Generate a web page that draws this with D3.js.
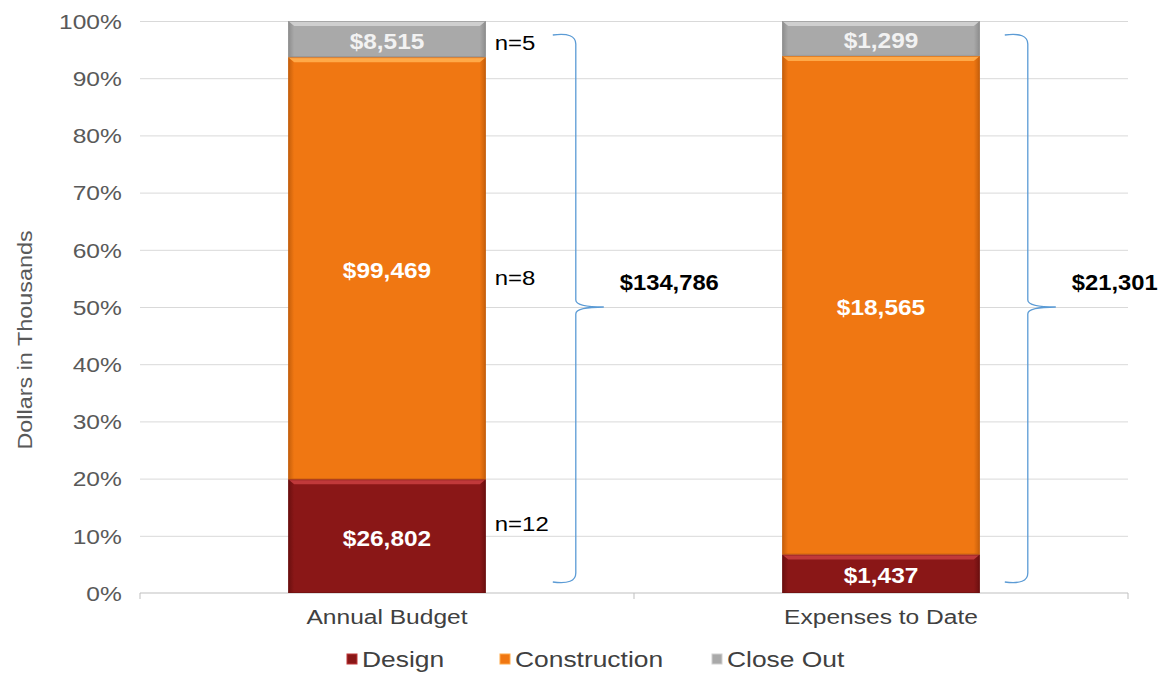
<!DOCTYPE html>
<html lang="en">
<head>
<meta charset="utf-8">
<title>Budget vs Expenses</title>
<script src="https://cdn.jsdelivr.net/npm/d3@7"></script>
<style>
  body { margin: 0; background: #fff; }
  svg { font-family: "Liberation Sans", Arial, sans-serif; }
  .grid line { stroke: #d9d9d9; }
  .grid path { display: none; }
  .yaxis text { fill: #595959; font-size: 21px; }
  .yaxis path, .yaxis line { display: none; }
  .xaxis text { fill: #404040; font-size: 21px; }
  .xaxis path, .xaxis line { stroke: #bfbfbf; }
</style>
</head>
<body>
<script>
// data
var categories = ["Annual Budget", "Expenses to Date"];
var seriesNames = ["Design", "Construction", "Close Out"];
var design = [26802, 1437];
var construction = [99469, 18565];
var closeOut = [8515, 1299];
var totals = ["$134,786", "$21,301"];
// n counts next to first bar, at percent height
var nLabels = ["n=12", "n=8", "n=5"];
var nPos = [0.122, 0.552, 0.962];
var yTicks = [0, 0.1, 0.2, 0.3, 0.4, 0.5, 0.6, 0.7, 0.8, 0.9, 1];

var colors = {"Design": "#8a1717", "Construction": "#f07712", "Close Out": "#a9a9a9"};
var light = {"Design": "#c0393a", "Construction": "#ffa948", "Close Out": "#cfcfcf"};
var dark = {"Design": "#6a0f0f", "Construction": "#c45e0b", "Close Out": "#8c8c8c"};
var labelColor = {"Design": "#ffffff", "Construction": "#ffffff", "Close Out": "#f2f2f2"};

var w = 1161, h = 675;
var mLeft = 140, mRight = 1128, mTop = 21, mBottom = 593;
var sx = 1.17;      // the source font is wide, stretch text horizontally
var sxBold = 1.08;
var braceGap = [90, 48];

var rows = categories.map(function(c, i) {
  return {cat: c, "Design": design[i], "Construction": construction[i], "Close Out": closeOut[i]};
});

var stack = d3.stack().keys(seriesNames).offset(d3.stackOffsetExpand);
var layers = stack(rows);

var x = d3.scaleBand().domain(categories).range([mLeft, mRight])
  .paddingInner(0.6).paddingOuter(0.3);
var y = d3.scaleLinear().domain([0, 1]).range([mBottom, mTop]);

var svg = d3.select("body").append("svg").attr("width", w).attr("height", h);

// place a text at (px,py) stretched by s
function place(px, py, s) {
  return "translate(" + px + "," + py + ") scale(" + s + ",1)";
}

// gridlines
svg.append("g").attr("class", "grid")
  .attr("transform", "translate(" + mLeft + ",0)")
  .call(d3.axisLeft(y).tickValues(yTicks.slice(1)).tickSize(-(mRight - mLeft)).tickFormat(""));

// y axis labels
svg.append("g").attr("class", "yaxis")
  .attr("transform", "translate(" + (mLeft - 10) + ",0)")
  .call(d3.axisLeft(y).tickValues(yTicks).tickFormat(d3.format(".0%")).tickSize(0).tickPadding(7))
  .selectAll("text").attr("dy", "0.35em").attr("transform", "scale(" + sx + ",1)");

// x axis with boundary ticks
var xg = svg.append("g").attr("class", "xaxis")
  .attr("transform", "translate(0," + mBottom + ")")
  .call(d3.axisBottom(x).tickSize(0).tickPadding(16));
xg.selectAll("text").attr("transform", "scale(" + sx + ",1)");
xg.select(".domain").attr("d", "M" + mLeft + ",0H" + mRight);
[mLeft, (mLeft + mRight) / 2, mRight].forEach(function(t) {
  xg.append("line").attr("x1", t).attr("x2", t).attr("y1", 0).attr("y2", 6)
    .attr("stroke", "#bfbfbf");
});

// bevel gradients
var defs = svg.append("defs");
seriesNames.forEach(function(s, i) {
  var g = defs.append("linearGradient").attr("id", "grad" + i)
    .attr("x1", 0).attr("x2", 1).attr("y1", 0).attr("y2", 0);
  g.append("stop").attr("offset", "0%").attr("stop-color", dark[s]);
  g.append("stop").attr("offset", "3%").attr("stop-color", colors[s]);
  g.append("stop").attr("offset", "97%").attr("stop-color", colors[s]);
  g.append("stop").attr("offset", "100%").attr("stop-color", dark[s]);
});

var layerG = svg.selectAll("g.layer").data(layers).enter().append("g")
  .attr("class", "layer");

var seg = layerG.selectAll("g.seg")
  .data(function(d, i) { return d.map(function(p) { return {key: d.key, li: i, p: p}; }); })
  .enter().append("g").attr("class", "seg");

seg.append("rect")
  .attr("x", function(d) { return x(d.p.data.cat); })
  .attr("y", function(d) { return y(d.p[1]); })
  .attr("width", x.bandwidth())
  .attr("height", function(d) { return y(d.p[0]) - y(d.p[1]); })
  .attr("fill", function(d) { return "url(#grad" + d.li + ")"; });

// top highlight strip
seg.append("path")
  .attr("d", function(d) {
    var x0 = x(d.p.data.cat), x1 = x0 + x.bandwidth(), yt = y(d.p[1]);
    return "M" + x0 + "," + yt + "H" + x1 + "L" + (x1 - 6) + "," + (yt + 5) +
      "H" + (x0 + 6) + "Z";
  })
  .attr("fill", function(d) { return light[d.key]; });

seg.append("rect")
  .attr("x", function(d) { return x(d.p.data.cat) + 0.5; })
  .attr("y", function(d) { return y(d.p[1]) + 0.5; })
  .attr("width", x.bandwidth() - 1)
  .attr("height", function(d) { return y(d.p[0]) - y(d.p[1]) - 1; })
  .attr("fill", "none")
  .attr("stroke", function(d) { return dark[d.key]; })
  .attr("stroke-opacity", 0.6);

seg.append("text")
  .attr("transform", function(d) {
    return place(x(d.p.data.cat) + x.bandwidth() / 2, (y(d.p[0]) + y(d.p[1])) / 2 + 2, sxBold + 0.03);
  })
  .attr("dy", "0.35em")
  .attr("text-anchor", "middle")
  .attr("font-size", "22px")
  .attr("font-weight", "bold")
  .attr("fill", function(d) { return labelColor[d.key]; })
  .text(function(d) { return "$" + d3.format(",")(d.p.data[d.key]); });

// n labels
svg.selectAll("text.n").data(nLabels).enter().append("text")
  .attr("class", "n")
  .attr("transform", function(d, i) {
    return place(x(categories[0]) + x.bandwidth() + 9, y(nPos[i]), sx - 0.03);
  })
  .attr("dy", "0.35em")
  .attr("font-size", "21px")
  .attr("fill", "#000")
  .text(function(d) { return d; });

// braces with totals
function bracePath(xv, yt, ym, yb) {
  return "M" + (xv - 23) + "," + yt +
    "Q" + xv + "," + (yt - 3) + " " + xv + "," + (yt + 9) +
    "L" + xv + "," + (ym - 7) +
    "Q" + xv + "," + ym + " " + (xv + 28) + "," + ym +
    "Q" + xv + "," + ym + " " + xv + "," + (ym + 7) +
    "L" + xv + "," + (yb - 9) +
    "Q" + xv + "," + (yb + 3) + " " + (xv - 23) + "," + yb;
}
var braceG = svg.selectAll("g.brace").data(categories).enter().append("g")
  .attr("class", "brace");
braceG.append("path")
  .attr("d", function(c, i) {
    var xv = x(c) + x.bandwidth() + braceGap[i];
    return bracePath(xv, y(1) + 14, y(0.5), y(0) - 11);
  })
  .attr("fill", "none")
  .attr("stroke", "#5b9bd5")
  .attr("stroke-width", 1.3);
braceG.append("text")
  .attr("transform", function(c, i) {
    return place(x(c) + x.bandwidth() + braceGap[i] + 44, y(0.5) - 25, sxBold);
  })
  .attr("dy", "0.35em")
  .attr("font-size", "22px")
  .attr("font-weight", "bold")
  .attr("fill", "#000")
  .text(function(c, i) { return totals[i]; });

// y axis title
svg.append("text")
  .attr("transform", "translate(32," + ((mTop + mBottom) / 2 + 33) + ") rotate(-90) scale(" + sx + ",1)")
  .attr("text-anchor", "middle")
  .attr("font-size", "20px")
  .attr("fill", "#595959")
  .text("Dollars in Thousands");

// legend
var legendX = [347, 500, 712];
var lg = svg.selectAll("g.legend").data(seriesNames).enter().append("g")
  .attr("class", "legend")
  .attr("transform", function(d, i) { return "translate(" + legendX[i] + ",659)"; });
lg.append("rect").attr("x", 0).attr("y", -5).attr("width", 10).attr("height", 10)
  .attr("fill", function(d) { return colors[d]; })
  .attr("stroke", function(d) { return light[d]; });
lg.append("text").attr("transform", place(15, 0, 1.2)).attr("dy", "0.35em")
  .attr("font-size", "22px").attr("fill", "#404040")
  .text(function(d) { return d; });
</script>
</body>
</html>
